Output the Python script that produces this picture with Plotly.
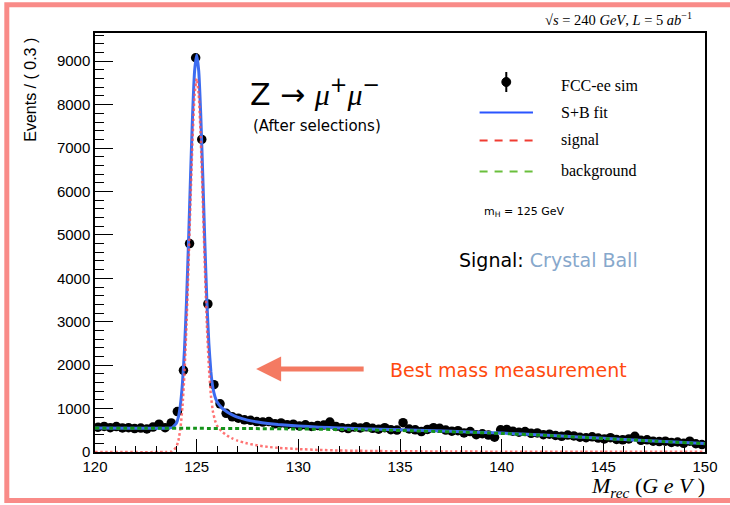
import numpy as np
import plotly.graph_objects as go

# ---------------- data ----------------
BIN_LOW = 120.0
BIN_WIDTH = 0.3
counts = [570, 590, 560, 585, 555, 560, 540, 550, 530, 575,
          640, 560, 670, 930, 1880, 4800, 9080, 7200, 3410, 1550,
          1110, 890, 810, 780, 740, 730, 700, 690, 700, 650,
          670, 630, 640, 600, 625, 590, 610, 620, 690, 590,
          560, 540, 575, 555, 580, 545, 525, 560, 515, 505,
          675, 530, 510, 470, 520, 560, 545, 505, 480, 490,
          440, 470, 400, 420, 390, 340, 510, 520, 480, 455,
          470, 430, 440, 400, 410, 380, 360, 390, 370, 340,
          330, 350, 320, 300, 330, 290, 280, 300, 360, 270,
          280, 250, 240, 250, 220, 230, 200, 250, 190, 170]

sig_x = [120.0, 123.5, 123.8, 124.0, 124.1, 124.2, 124.3, 124.4, 124.5, 124.6,
         124.7, 124.8, 124.9, 125.0, 125.1, 125.2, 125.3, 125.4, 125.5, 125.6,
         125.7, 125.8, 125.9, 126.0, 126.25, 126.5, 126.75, 127.0, 127.5, 128.0,
         128.5, 129.0, 130.0, 131.0, 132.0, 133.0, 134.0, 135.0, 137.5, 140.0,
         145.0, 150.0]
signal_y = [0, 0, 17, 114, 260, 540, 1030, 1810, 2920, 4300,
            5830, 7230, 8240, 8600, 8240, 7230, 5830, 4300, 2950, 1950,
            1300, 930, 730, 610, 465, 378, 312, 262, 195, 150,
            118, 95, 68, 48, 35, 27, 21, 17, 11, 7,
            4, 3]

fit_x = [120.0, 123.5, 123.8, 124.0, 124.1, 124.2, 124.3, 124.4, 124.5, 124.6,
         124.7, 124.8, 124.9, 125.0, 125.1, 125.2, 125.3, 125.4, 125.5, 125.6,
         125.7, 125.8, 125.9, 126.0, 126.25, 126.5, 126.75, 127.0, 127.5, 128.0,
         128.5, 129.0, 130.0, 131.0, 132.0, 133.0, 134.0, 135.0, 137.5, 140.0,
         142.5, 145.0, 147.5, 150.0]
fit_y = [550, 548, 565, 660, 806, 1086, 1576, 2356, 3466, 4846,
         6376, 7776, 8786, 9145, 8785, 7775, 6375, 4845, 3495, 2495,
         1845, 1475, 1275, 1155, 1010, 922, 855, 804, 735, 689,
         656, 631, 598, 572, 553, 538, 524, 512, 476, 435,
         379, 314, 253, 193]

bkg_x = [120.0, 122.5, 125.0, 127.5, 130.0, 132.5, 135.0, 137.5, 140.0, 142.5, 145.0, 147.5, 150.0]
bkg_y = [550, 549, 545, 540, 530, 515, 495, 465, 428, 375, 310, 250, 190]

x_ticks = [120, 125, 130, 135, 140, 145, 150]
x_tick_labels = ["120", "125", "130", "135", "140", "145", "150"]
y_ticks = [0, 1000, 2000, 3000, 4000, 5000, 6000, 7000, 8000, 9000]
y_tick_labels = ["0", "1000", "2000", "3000", "4000", "5000", "6000", "7000", "8000", "9000"]

# ---------------- layout geometry ----------------
W, H = 730, 505
L, R, T, B = 95, 18, 33, 53
PW, PH = W - L - R, H - T - B


def px(xpix):
    return (xpix - L) / PW


def py(ypix):
    return (H - B - ypix) / PH


bin_centers = [BIN_LOW + BIN_WIDTH * (i + 0.5) for i in range(len(counts))]
errors = list(np.sqrt(counts))

BLUE = "#3d6cf0"
RED = "rgba(255,80,80,0.8)"
GREEN = "#15931a"

fig = go.Figure()
fig.add_trace(go.Scatter(
    x=bin_centers, y=counts, mode="markers",
    marker=dict(color="black", size=9.5),
    error_y=dict(type="data", array=errors, color="black", thickness=1.5, width=0),
    name="FCC-ee sim"))
fig.add_trace(go.Scatter(x=fit_x, y=fit_y, mode="lines", name="S+B fit",
                         line=dict(color=BLUE, width=3, shape="spline", smoothing=0.4)))
fig.add_trace(go.Scatter(x=sig_x, y=signal_y, mode="lines", name="signal",
                         line=dict(color=RED, width=2.5, dash="2.5px,2.5px", shape="spline", smoothing=0.4)))
fig.add_trace(go.Scatter(x=bkg_x, y=bkg_y, mode="lines", name="background",
                         line=dict(color=GREEN, width=3, dash="4px,3px", shape="spline", smoothing=0.6)))

axis_common = dict(showline=True, linecolor="black", linewidth=1.5, mirror=True,
                   ticks="inside", tickcolor="black", tickwidth=1.2,
                   showgrid=False, zeroline=False,
                   tickfont=dict(family="Liberation Sans, Arial", size=15, color="black"))

fig.update_xaxes(range=[120, 150], tickvals=x_ticks, ticktext=x_tick_labels, ticklen=13,
                 minor=dict(dtick=1, ticklen=6, ticks="inside", tickcolor="black", tickwidth=1.2),
                 **axis_common)
fig.update_yaxes(range=[0, 9650], tickvals=y_ticks, ticktext=y_tick_labels, ticklen=18,
                 minor=dict(dtick=200, ticklen=9, ticks="inside", tickcolor="black", tickwidth=1.2),
                 **axis_common)

shapes = []
# slide border
shapes.append(dict(type="rect", xref="paper", yref="paper",
                   x0=px(5.8), x1=px(748), y0=py(500.5), y1=py(4.8),
                   line=dict(color="#f98b88", width=5), layer="below"))
# legend keys
shapes.append(dict(type="line", xref="paper", yref="paper", x0=px(511), x1=px(511),
                   y0=py(72), y1=py(92), line=dict(color="black", width=2)))
shapes.append(dict(type="circle", xref="paper", yref="paper", x0=px(506.5), x1=px(515.5),
                   y0=py(86.5), y1=py(77.5), line=dict(color="black", width=1), fillcolor="black"))
shapes.append(dict(type="line", xref="paper", yref="paper", x0=px(484), x1=px(538),
                   y0=py(112.5), y1=py(112.5), line=dict(color="#2a55ff", width=2)))
shapes.append(dict(type="line", xref="paper", yref="paper", x0=px(484), x1=px(538),
                   y0=py(140.5), y1=py(140.5), line=dict(color="#f03c32", width=2, dash="8px,7px")))
shapes.append(dict(type="line", xref="paper", yref="paper", x0=px(484), x1=px(538),
                   y0=py(171.5), y1=py(171.5), line=dict(color="#6abf3c", width=2, dash="8px,7px")))

SERIF = "Liberation Serif, Times New Roman, serif"
SANS = "DejaVu Sans, sans-serif"

ann = []


def add_text(text, xpix, ypix, size, family, color="black", xanchor="left", yanchor="middle", angle=0):
    ann.append(dict(text=text, x=px(xpix), y=py(ypix), xref="paper", yref="paper",
                    xanchor=xanchor, yanchor=yanchor, showarrow=False, textangle=angle,
                    font=dict(size=size, family=family, color=color)))


add_text("√<i>s</i> = 240 <i>GeV</i>, <i>L</i> = 5 <i>ab</i><sup>−1</sup>", 701, 19, 14.5, SERIF, xanchor="right")
add_text("FCC-ee sim", 564, 86, 16, SERIF)
add_text("S+B fit", 564, 113, 16, SERIF)
add_text("signal", 564, 140, 16, SERIF)
add_text("background", 564, 171, 16, SERIF)
add_text("m<sub>H</sub> = 125 GeV", 486, 212, 11, SANS)
add_text("Z → <span style='font-family:Liberation Serif'><i>μ</i></span><sup>+</sup>"
         "<span style='font-family:Liberation Serif'><i>μ</i></span><sup>−</sup>", 250, 92, 30, SANS)
add_text("(After selections)", 253, 126, 15, SANS)
add_text("Signal: <span style='color:#87a8cc'>Crystal Ball</span>", 461, 260, 19, SANS)
add_text("Best mass measurement", 391, 370, 19, SANS, color="#ff4a0f")
add_text("Events / ( 0.3 )", 29, 36, 16, "Liberation Sans, Arial", xanchor="center", yanchor="top", angle=-90)
add_text("<i>M<sub>rec</sub></i> (<i>G e V</i> )", 714, 487, 22, SERIF, xanchor="right")

# arrow pointing at the peak
ann.append(dict(text="", x=px(258), y=py(369), xref="paper", yref="paper",
                ax=109, ay=0, axref="pixel", ayref="pixel", showarrow=True,
                arrowhead=2, arrowsize=1, arrowwidth=5, arrowcolor="#f47a62"))

fig.update_layout(width=W, height=H, margin=dict(l=L, r=R, t=T, b=B),
                  paper_bgcolor="white", plot_bgcolor="white", showlegend=False,
                  shapes=shapes, annotations=ann)

fig.write_html("out.html", config={"displayModeBar": False},
               post_script="document.body.style.margin='0px';")
